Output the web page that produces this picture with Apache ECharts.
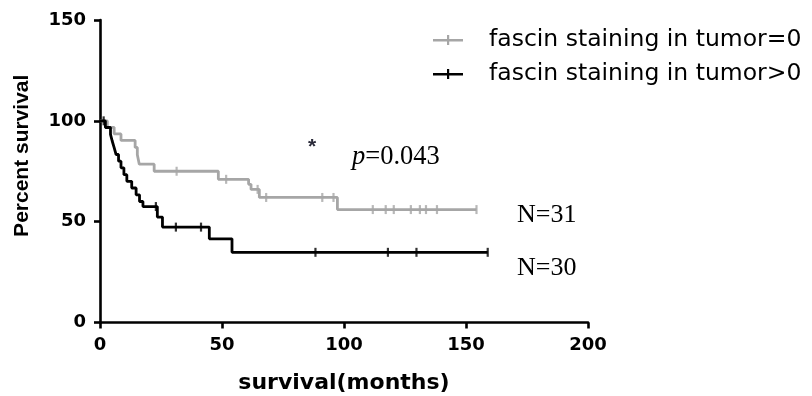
<!DOCTYPE html>
<html><head><meta charset="utf-8">
<script src="https://cdn.jsdelivr.net/npm/echarts@6/dist/echarts.min.js"></script>
<style>html,body{margin:0;padding:0;background:#fff}#c{width:812px;height:396px}</style>
</head><body><div id="c"></div>
<script>
// ---- data ----
const seriesNames = ['fascin staining in tumor=0', 'fascin staining in tumor>0'];
// group "=0" (gray): times (months) where the curve steps, and survival (%) after each step
const grayTimes  = [0, 3.0, 5.8, 8.6, 14.4, 15.3, 16.1, 22.2, 48.5, 60.9, 61.9, 65.3, 97.3, 154.3];
const graySurv   = [100, 96.8, 93.5, 90.3, 86.8, 83.2, 78.5, 75.0, 71.0, 68.5, 66.0, 62.0, 56.0, 56.0];
const grayCensor = [31.4, 51.7, 64.6, 68.1, 91.1, 95.7, 111.8, 117.1, 120.4, 127.4, 131.1, 133.6, 138.1, 154.3];
// group ">0" (black)
const blackTimes  = [0, 2.2, 4.3, 5.0, 5.8, 6.6, 7.6, 8.6, 9.8, 11.0, 13.0, 14.8, 16.2, 17.6, 23.5, 25.6, 44.8, 54.1, 158.9];
const blackSurv   = [100, 96.7, 93.3, 90.0, 86.7, 83.3, 80.0, 76.7, 73.3, 70.0, 66.7, 63.3, 60.0, 57.5, 52.3, 47.3, 41.5, 34.8, 34.8];
const blackCensor = [1.5, 22.9, 31.1, 41.4, 88.3, 118.0, 129.7, 158.9];
const xTickValues = [0, 50, 100, 150, 200];
const yTickValues = [0, 50, 100, 150];
const annotations = { star: '*', pText: '=0.043', n0: 'N=31', n1: 'N=30' };

// ---- helpers ----
function pairs(ts, vs) { return ts.map((t, i) => [t, vs[i]]); }
function survAt(ts, vs, t) { let v = vs[0]; for (let i = 0; i < ts.length; i++) { if (ts[i] <= t) v = vs[i]; } return v; }
function censorPairs(ts, vs, cs) { return cs.map(c => [c, survAt(ts, vs, c)]); }

const GRAY = '#a6a6a6', BLACK = '#000000';
const chart = echarts.init(document.getElementById('c'), null, { renderer: 'canvas' });
chart.setOption({
  animation: false,
  backgroundColor: '#ffffff',
  grid: { left: 100, right: 224, top: 20, bottom: 73.5, containLabel: false, outerBoundsMode: 'none' },
  legend: {
    orient: 'vertical', left: 428, top: 23,
    data: seriesNames,
    icon: 'path://M0,4h30v2.6h-30z M14,0h2.2v10h-2.2z',
    itemWidth: 30, itemHeight: 10, itemGap: 10,
    itemStyle: { borderWidth: 0 },
    selectedMode: false,
    textStyle: { fontFamily: 'DejaVu Sans', fontSize: 23.5, color: '#000', padding: [0, 0, 0, 21], lineHeight: 24 }
  },
  xAxis: {
    type: 'value', min: xTickValues[0], max: xTickValues[xTickValues.length - 1], interval: 50,
    name: 'survival(months)', nameLocation: 'middle', nameGap: 50,
    nameTextStyle: { fontFamily: 'DejaVu Sans', fontWeight: 'bold', fontSize: 22, color: '#000' },
    axisLine: { show: true, onZero: false, lineStyle: { color: '#000', width: 2.6 } },
    axisTick: { show: true, length: 6, lineStyle: { color: '#000', width: 2.6 } },
    axisLabel: { margin: 14, fontFamily: 'DejaVu Sans', fontWeight: 'bold', fontSize: 18, color: '#000' },
    splitLine: { show: false }
  },
  yAxis: {
    type: 'value', min: yTickValues[0], max: yTickValues[yTickValues.length - 1], interval: 50,
    name: 'Percent survival', nameLocation: 'middle', nameGap: 67, nameRotate: 90,
    nameTextStyle: { fontFamily: 'Liberation Sans', fontWeight: 'bold', fontSize: 21, color: '#000', padding: [0, 0, 0, 31] },
    axisLine: { show: true, onZero: false, lineStyle: { color: '#000', width: 2.6 } },
    axisTick: { show: true, length: 6, lineStyle: { color: '#000', width: 2.6 } },
    axisLabel: { margin: 14, fontFamily: 'DejaVu Sans', fontWeight: 'bold', fontSize: 18, color: '#000' },
    splitLine: { show: false }
  },
  series: [
    { name: seriesNames[0], type: 'line', step: 'end', data: pairs(grayTimes, graySurv), symbol: 'none', showSymbol: false,
      lineStyle: { color: GRAY, width: 2.8 }, itemStyle: { color: GRAY }, z: 2 },
    { name: seriesNames[1], type: 'line', step: 'end', data: pairs(blackTimes, blackSurv), symbol: 'none', showSymbol: false,
      lineStyle: { color: BLACK, width: 2.8 }, itemStyle: { color: BLACK }, z: 3 },
    { type: 'scatter', data: censorPairs(grayTimes, graySurv, grayCensor), symbol: 'rect', symbolSize: [2.2, 9],
      itemStyle: { color: GRAY }, silent: true, z: 2 },
    { type: 'scatter', data: censorPairs(blackTimes, blackSurv, blackCensor), symbol: 'rect', symbolSize: [2.2, 9],
      itemStyle: { color: BLACK }, silent: true, z: 3 }
  ],
  graphic: [
    { type: 'text', x: 312, y: 147, style: { text: annotations.star, font: 'bold 21px "Liberation Sans"', fill: '#2b2b3a', textAlign: 'center', textVerticalAlign: 'middle' } },
    { type: 'text', x: 352, y: 157, style: { text: '{i|p}' + annotations.pText, font: '26.5px "Liberation Serif"', fill: '#000', textVerticalAlign: 'middle',
        rich: { i: { fontStyle: 'italic', fontFamily: 'Liberation Serif', fontSize: 26.5, fill: '#000' } } } },
    { type: 'text', x: 517, y: 215, style: { text: annotations.n0, font: '26px "Liberation Serif"', fill: '#000', textVerticalAlign: 'middle' } },
    { type: 'text', x: 517, y: 268, style: { text: annotations.n1, font: '26px "Liberation Serif"', fill: '#000', textVerticalAlign: 'middle' } }
  ]
});
</script></body></html>
